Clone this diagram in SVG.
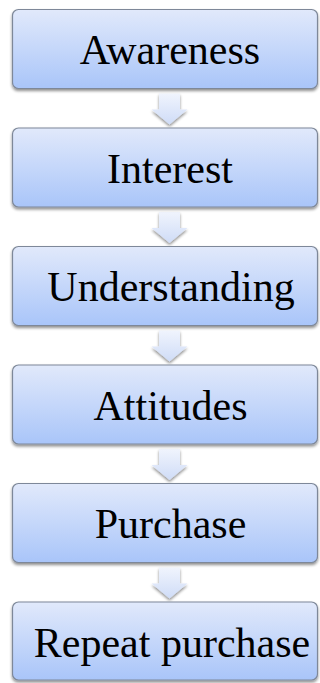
<svg xmlns="http://www.w3.org/2000/svg" width="320" height="683" viewBox="0 0 320 683">
  <defs>
    <linearGradient id="boxFill" x1="0" y1="0" x2="0" y2="1">
      <stop offset="0" stop-color="#e1e9fb"/>
      <stop offset="1" stop-color="#a9c5f9"/>
    </linearGradient>
    <linearGradient id="arrowFill" x1="0" y1="0" x2="0" y2="1">
      <stop offset="0" stop-color="#f0f4fd"/>
      <stop offset="1" stop-color="#cfdcf7"/>
    </linearGradient>
    <filter id="shadow" x="-10%" y="-10%" width="120%" height="130%">
      <feGaussianBlur in="SourceAlpha" stdDeviation="1.6"/>
      <feOffset dx="0" dy="2" result="blur"/>
      <feComponentTransfer><feFuncA type="linear" slope="0.45"/></feComponentTransfer>
      <feMerge><feMergeNode/><feMergeNode in="SourceGraphic"/></feMerge>
    </filter>
    <path id="downArrow" d="M-10.5 0 H10.5 V16 H18 L0 31 L-18 16 H-10.5 Z"/>
  </defs>
  <style>
    .box { fill: url(#boxFill); stroke: #7e8899; stroke-width: 1.2; filter: url(#shadow); }
    .arrow { fill: url(#arrowFill); filter: url(#shadow); }
    .label { font-family: "Liberation Serif", "Times New Roman", serif; font-size: 42px; fill: #000; text-anchor: middle; }
  </style>

  <g id="connectors">
    <use href="#downArrow" class="arrow" x="169.5" y="93.5"/>
    <use href="#downArrow" class="arrow" x="169.5" y="212"/>
    <use href="#downArrow" class="arrow" x="169.5" y="330.5"/>
    <use href="#downArrow" class="arrow" x="169.5" y="449"/>
    <use href="#downArrow" class="arrow" x="169.5" y="567.5"/>
  </g>

  <g id="awareness">
    <rect class="box" x="12.5" y="9.5" width="305" height="79" rx="6"/>
    <text class="label" x="170" y="64">Awareness</text>
  </g>
  <g id="interest">
    <rect class="box" x="12.5" y="128" width="305" height="79" rx="6"/>
    <text class="label" x="170" y="182.5">Interest</text>
  </g>
  <g id="understanding">
    <rect class="box" x="12.5" y="246.5" width="305" height="79" rx="6"/>
    <text class="label" x="171" y="301">Understanding</text>
  </g>
  <g id="attitudes">
    <rect class="box" x="12.5" y="365" width="305" height="79" rx="6"/>
    <text class="label" x="170.5" y="419.5">Attitudes</text>
  </g>
  <g id="purchase">
    <rect class="box" x="12.5" y="483.5" width="305" height="79" rx="6"/>
    <text class="label" x="170.5" y="538">Purchase</text>
  </g>
  <g id="repeat-purchase">
    <rect class="box" x="12.5" y="602" width="305" height="78" rx="6"/>
    <text class="label" x="172" y="656.5">Repeat purchase</text>
  </g>
</svg>
